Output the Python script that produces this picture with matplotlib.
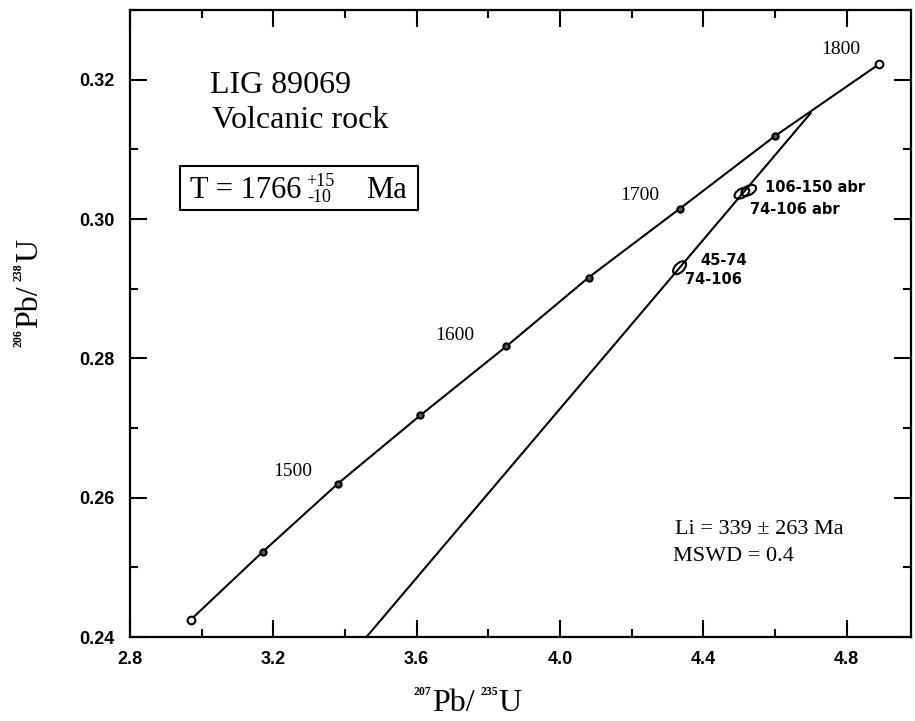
import numpy as np
import matplotlib
matplotlib.use('Agg')
from matplotlib import pyplot as plt
from matplotlib import transforms
from matplotlib.patches import Ellipse, Rectangle

# данные
ages = [1400, 1450, 1500, 1550, 1600, 1650, 1700, 1750, 1800]
pb207_u235 = [2.97, 3.17, 3.38, 3.61, 3.85, 4.08, 4.335, 4.60, 4.89]
pb206_u238 = [0.2425, 0.2522, 0.2620, 0.2718, 0.2817, 0.2916, 0.3015, 0.3119, 0.3222]
labelled_ages = [1500, 1600, 1700, 1800]

# дискордия: нижний край рамки -> верхнее пересечение (1766 Ma)
disc_x = [3.46, 4.70]
disc_y = [0.24, 0.3152]

# эллипсы анализов
ell_x = [4.334, 4.508, 4.527]
ell_y = [0.2930, 0.3037, 0.3041]
ell_angle = [45, 28, 28]

serif = ['Liberation Serif', 'DejaVu Serif']
plt.rcParams['font.family'] = serif

W, H = 915, 721
fig = plt.figure(figsize=(W / 100, H / 100), dpi=100)
ax = fig.add_axes([130 / W, 1 - 637 / H, (911 - 130) / W, (637 - 10) / H])


def px(x, y):
    return x / W, 1 - y / H


ax.plot(pb207_u235, pb206_u238, color='black', lw=1.5, zorder=2)
ax.plot(pb207_u235[1:-1], pb206_u238[1:-1], 'o', ms=4.5, mfc='#555555', mec='black', mew=1.5, zorder=3)
ax.plot([pb207_u235[0], pb207_u235[-1]], [pb206_u238[0], pb206_u238[-1]], 'o', ms=5.5,
        mfc='white', mec='black', mew=1.5, zorder=3)
ax.plot(disc_x, disc_y, color='black', lw=1.5, zorder=2)

for x, y, a in zip(ell_x, ell_y, ell_angle):
    tr = fig.dpi_scale_trans + transforms.ScaledTranslation(x, y, ax.transData)
    ax.add_patch(Ellipse((0, 0), 0.16, 0.09, angle=a, transform=tr,
                         fill=False, ec='black', lw=1.5, zorder=4))

ax.set_xlim(2.8, 4.98)
ax.set_ylim(0.24, 0.33)
ax.set_xticks(np.arange(2.8, 4.81, 0.4))
ax.set_xticks(np.arange(3.0, 4.9, 0.4), minor=True)
ax.set_yticks(np.arange(0.24, 0.321, 0.02))
ax.set_yticks(np.arange(0.25, 0.33, 0.02), minor=True)
ax.set_xticklabels(['%.1f' % v for v in np.arange(2.8, 4.81, 0.4)])
ax.set_yticklabels(['%.2f' % v for v in np.arange(0.24, 0.321, 0.02)])
ax.tick_params(which='both', direction='in', top=True, right=True, width=1.5)
ax.tick_params(which='major', length=12)
ax.tick_params(which='minor', length=6)
ax.tick_params(axis='x', pad=10)
ax.tick_params(axis='y', pad=11)
for lab in ax.get_xticklabels() + ax.get_yticklabels():
    lab.set_family('Liberation Sans')
    lab.set_fontsize(13)
    lab.set_weight('bold')
for s in ax.spines.values():
    s.set_linewidth(1.6)


def piece_label(x0, y0, pieces, vertical=False):
    # подпись оси из кусков: маленькие индексы изотопов + крупный текст
    r = fig.canvas.get_renderer()
    pos = 0
    for txt, size, weight, rise, gap in pieces:
        if vertical:
            xy = px(x0 - rise, y0 - pos)
        else:
            xy = px(x0 + pos, y0 - rise)
        t = fig.text(*xy, txt, fontsize=size, weight=weight, ha='left', va='baseline',
                     rotation=90 if vertical else 0, rotation_mode='anchor')
        bb = t.get_window_extent(r)
        pos += (bb.height if vertical else bb.width) + gap


piece_label(413, 711, [('207', 8.5, 'bold', 16, 1), ('Pb/', 23, 'normal', 0, 6),
                       ('235', 8.5, 'bold', 16, 1), ('U', 23, 'normal', 0, 0)])
piece_label(37, 347, [('206', 8.5, 'bold', 15, 1), ('Pb/', 23, 'normal', 0, 5),
                      ('238', 8.5, 'bold', 15, 1), ('U', 23, 'normal', 0, 0)], vertical=True)

# подписи возрастов
age_pos = {1500: (293, 472), 1600: (455, 335), 1700: (640, 195), 1800: (841, 50)}
for a in labelled_ages:
    fig.text(*px(*age_pos[a]), str(a), ha='center', va='center', fontsize=14)

fig.text(*px(210, 93), 'LIG 89069', ha='left', va='baseline', fontsize=23)
fig.text(*px(212, 128), 'Volcanic rock', ha='left', va='baseline', fontsize=23)

fig.add_artist(Rectangle(px(180, 210), (418 - 180) / W, (210 - 166) / H,
                         transform=fig.transFigure, fill=False, ec='black', lw=1.5))
fig.text(*px(190, 198), 'T = 1766', ha='left', va='baseline', fontsize=22)
fig.text(*px(306, 182), '+15', ha='left', va='center', fontsize=13)
fig.text(*px(307, 198), '-10', ha='left', va='center', fontsize=13)
fig.text(*px(366, 198), 'Ma', ha='left', va='baseline', fontsize=22)

fig.text(*px(675, 534), 'Li = 339 \u00b1 263 Ma', ha='left', va='baseline', fontsize=16)
fig.text(*px(673, 561), 'MSWD = 0.4', ha='left', va='baseline', fontsize=16)

for t, x, y in [('106-150 abr', 765, 187), ('74-106 abr', 750, 210),
                ('45-74', 700, 260), ('74-106', 685, 279)]:
    fig.text(*px(x, y), t, ha='left', va='center', fontsize=10.5, family='DejaVu Sans', weight='bold')

fig.savefig('out.png', dpi=100)
